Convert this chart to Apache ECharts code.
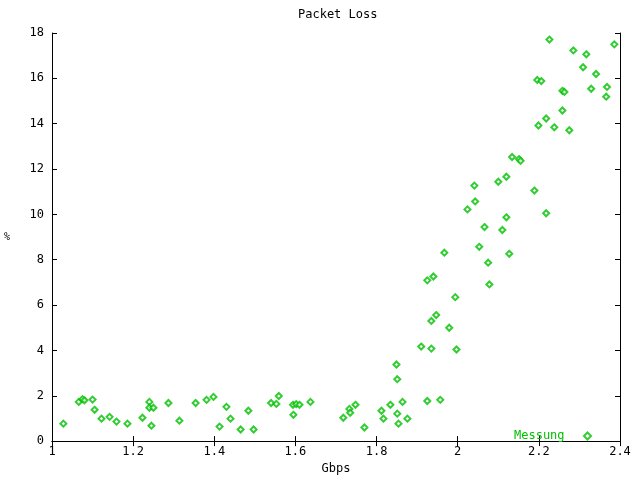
<!DOCTYPE html>
<html>
<head>
<meta charset="utf-8">
<script src="https://cdn.jsdelivr.net/npm/echarts@6/dist/echarts.min.js"></script>
<style>html,body{margin:0;padding:0;background:#fff;}#c{width:640px;height:480px;}</style>
</head>
<body>
<div id="c"></div>
<script>
var title = 'Packet Loss';
var xName = 'Gbps';
var yName = '%';
var seriesName = 'Messung';
var gbps = [1.028,1.066,1.075,1.080,1.100,1.105,1.122,1.142,1.159,1.186,1.223,1.240,1.240,1.250,1.245,1.287,1.314,1.354,1.381,1.398,1.413,1.430,1.440,1.465,1.484,1.497,1.540,1.553,1.559,1.595,1.594,1.602,1.610,1.637,1.718,1.733,1.735,1.748,1.770,1.812,1.817,1.834,1.849,1.851,1.851,1.854,1.864,1.876,1.910,1.925,1.925,1.935,1.935,1.940,1.947,1.957,1.967,1.979,1.994,1.997,2.024,2.041,2.043,2.053,2.066,2.075,2.078,2.100,2.110,2.120,2.120,2.127,2.134,2.151,2.155,2.189,2.196,2.199,2.206,2.218,2.218,2.226,2.238,2.258,2.263,2.258,2.275,2.285,2.309,2.317,2.329,2.341,2.366,2.368,2.386];
var loss = [0.77,1.73,1.85,1.80,1.83,1.38,0.99,1.07,0.86,0.77,1.03,1.73,1.47,1.47,0.68,1.68,0.90,1.68,1.82,1.95,0.64,1.51,0.99,0.51,1.34,0.51,1.68,1.64,1.99,1.16,1.60,1.63,1.60,1.73,1.03,1.42,1.25,1.60,0.60,1.34,0.99,1.60,3.38,2.73,1.21,0.77,1.73,0.99,4.17,1.77,7.09,4.08,5.30,7.26,5.56,1.82,8.31,5.00,6.35,4.04,10.22,11.27,10.57,8.57,9.44,7.87,6.91,11.44,9.31,9.87,11.66,8.26,12.53,12.44,12.36,11.05,15.93,13.92,15.88,10.05,14.23,17.71,13.84,15.45,15.40,14.58,13.71,17.23,16.49,17.06,15.54,16.19,15.19,15.62,17.50];

var points = gbps.map(function (x, i) { return [x, loss[i]]; });
var green = '#00c000';
var font = 'DejaVu Sans Mono';

var chart = echarts.init(document.getElementById('c'), null, {renderer: 'canvas'});
var tickStyle = {show: true, inside: true, length: 5, lineStyle: {color: '#000', width: 1}};
var lineStyle = {show: true, lineStyle: {color: '#000', width: 1}};
chart.setOption({
  backgroundColor: '#fff',
  animation: false,
  title: {
    text: title, left: 298, top: 9, padding: 0,
    textStyle: {fontFamily: font, fontSize: 12, fontWeight: 'normal', color: '#000'}
  },
  legend: {
    right: 48, top: 430, padding: 0, align: 'right',
    itemWidth: 7, itemHeight: 7,
    formatter: function (n) { return n + '  '; },
    textStyle: {fontFamily: font, fontSize: 12, color: green},
    data: [{name: seriesName, icon: 'emptyDiamond'}]
  },
  grid: {left: 52, right: 20, top: 33, bottom: 34, containLabel: false},
  xAxis: [{
    type: 'value', min: 1, max: 2.4, interval: 0.2,
    name: xName, nameLocation: 'middle', nameGap: 20,
    nameTextStyle: {fontFamily: font, fontSize: 12, color: '#000'},
    axisLine: lineStyle, axisTick: tickStyle, splitLine: {show: false},
    axisLabel: {fontFamily: font, fontSize: 12, color: '#000', margin: 5}
  }, {
    type: 'value', position: 'top', min: 1, max: 2.4, interval: 0.2,
    axisLine: lineStyle, axisTick: tickStyle, splitLine: {show: false},
    axisLabel: {show: false}
  }],
  yAxis: [{
    type: 'value', min: 0, max: 18, interval: 2,
    name: yName, nameLocation: 'middle', nameGap: 42, nameRotate: 0,
    nameTextStyle: {fontFamily: font, fontSize: 10, color: '#000'},
    axisLine: lineStyle, axisTick: tickStyle, splitLine: {show: false},
    axisLabel: {fontFamily: font, fontSize: 12, color: '#000', margin: 8}
  }, {
    type: 'value', position: 'right', min: 0, max: 18, interval: 2,
    axisLine: lineStyle, axisTick: tickStyle, splitLine: {show: false},
    axisLabel: {show: false}
  }],
  series: [{
    name: seriesName, type: 'scatter', xAxisIndex: 0, yAxisIndex: 0,
    symbol: 'emptyDiamond', symbolSize: 6,
    itemStyle: {color: green, borderColor: green, borderWidth: 1},
    data: points
  }]
});
</script>
</body>
</html>
